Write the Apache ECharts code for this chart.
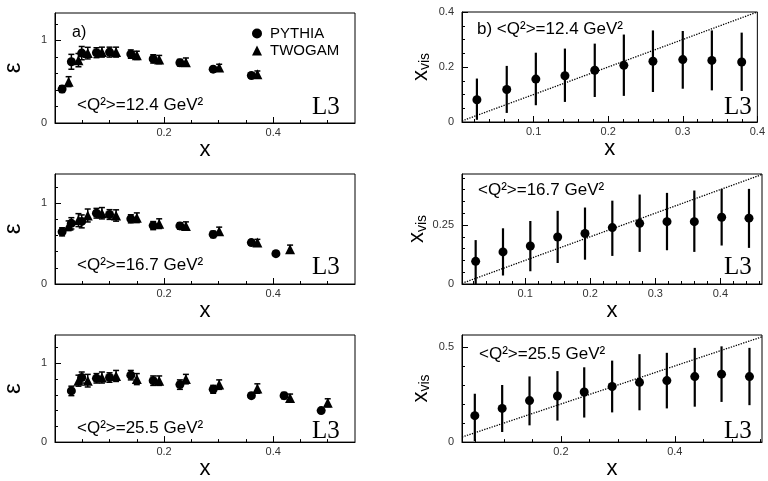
<!DOCTYPE html>
<html><head><meta charset="utf-8">
<script src="https://cdn.jsdelivr.net/npm/echarts@6/dist/echarts.min.js"></script>
<style>html,body{margin:0;padding:0;background:#fff}#c{width:768px;height:481px}</style>
</head><body><div id="c"></div><script>
// ---------- DATA ----------
const a_pyX   = [0.013,0.030,0.049,0.076,0.100,0.139,0.180,0.229,0.290,0.360];
const a_pyY   = [0.41,0.74,0.845,0.85,0.857,0.833,0.775,0.729,0.651,0.574];
const a_pyErr = [0.04,0.09,0.08,0.06,0.06,0.05,0.05,0.04,0.03,0.03];
const a_twX   = [0.025,0.043,0.060,0.086,0.112,0.150,0.191,0.240,0.301,0.371];
const a_twY   = [0.50,0.76,0.845,0.857,0.857,0.818,0.767,0.736,0.67,0.589];
const a_twErr = [0.06,0.08,0.07,0.06,0.06,0.05,0.05,0.05,0.04,0.04];

const c_pyX   = [0.013,0.030,0.049,0.076,0.100,0.139,0.180,0.229,0.290,0.360,0.405];
const c_pyY   = [0.645,0.75,0.774,0.875,0.859,0.806,0.722,0.718,0.613,0.512,0.375];
const c_pyErr = [0.05,0.07,0.08,0.06,0.06,0.05,0.05,0.04,0.04,0.03,0.03];
const c_twX   = [0.025,0.043,0.060,0.086,0.112,0.150,0.191,0.240,0.301,0.371,0.431];
const c_twY   = [0.72,0.79,0.847,0.875,0.847,0.819,0.746,0.718,0.653,0.512,0.431];
const c_twErr = [0.06,0.08,0.08,0.07,0.07,0.06,0.06,0.05,0.05,0.04,0.05];

const e_pyX   = [0.030,0.049,0.076,0.100,0.139,0.180,0.229,0.290,0.360,0.420,0.488];
const e_pyY   = [0.65,0.82,0.81,0.82,0.85,0.78,0.73,0.67,0.59,0.59,0.40];
const e_pyErr = [0.06,0.07,0.06,0.06,0.06,0.06,0.06,0.05,0.03,0.04,0.02];
const e_twX   = [0.043,0.060,0.086,0.112,0.150,0.191,0.240,0.301,0.371,0.431,0.500];
const e_twY   = [0.78,0.78,0.82,0.84,0.80,0.78,0.80,0.73,0.68,0.56,0.50];
const e_twErr = [0.07,0.08,0.07,0.07,0.07,0.06,0.06,0.06,0.06,0.05,0.05];

const b_x  = [0.024,0.064,0.103,0.142,0.182,0.221,0.260,0.300,0.339,0.379];
const b_y  = [0.081,0.118,0.156,0.168,0.188,0.206,0.221,0.227,0.224,0.218];
const b_hi = [0.158,0.204,0.252,0.267,0.285,0.318,0.333,0.331,0.333,0.325];
const b_lo = [0.008,0.033,0.061,0.073,0.091,0.095,0.109,0.121,0.115,0.113];

const d_x  = [0.024,0.066,0.108,0.150,0.192,0.234,0.276,0.318,0.360,0.402,0.444];
const d_y  = [0.096,0.136,0.161,0.199,0.214,0.239,0.257,0.264,0.264,0.283,0.279];
const d_hi = [0.186,0.236,0.267,0.310,0.324,0.353,0.379,0.386,0.396,0.403,0.403];
const d_lo = [0.000,0.036,0.054,0.089,0.103,0.119,0.136,0.143,0.136,0.163,0.153];

const f_x  = [0.049,0.097,0.145,0.194,0.241,0.290,0.338,0.386,0.435,0.482,0.531];
const f_y  = [0.139,0.177,0.218,0.242,0.263,0.292,0.314,0.323,0.344,0.357,0.344];
const f_hi = [0.254,0.300,0.345,0.373,0.393,0.428,0.462,0.469,0.495,0.503,0.495];
const f_lo = [0.005,0.053,0.088,0.113,0.129,0.156,0.167,0.177,0.186,0.211,0.194];

const leftXRange  = [0, 0.55];
const leftXMajor  = [0.2, 0.4];
const leftXMinor  = [0.05,0.1,0.15,0.25,0.3,0.35,0.45,0.5];
const leftYMajor  = [0, 1];
const leftYMinor  = [0.2,0.4,0.6,0.8,1.2];
const aYRange = [0, 1.33], cYRange = [0, 1.36], eYRange = [0, 1.36];

const bXRange = [0.004, 0.4], bYRange = [0, 0.4];
const bXMajor = [0.1,0.2,0.3,0.4];
const bXMinor = [0.02,0.04,0.06,0.08,0.12,0.14,0.16,0.18,0.22,0.24,0.26,0.28,0.32,0.34,0.36,0.38];
const bYMajor = [0,0.2,0.4];
const bYMinor = [0.05,0.1,0.15,0.25,0.3,0.35];

const dXRange = [0.003, 0.464], dYRange = [0, 0.466];
const dXMajor = [0.1,0.2,0.3,0.4];
const dXMinor = [0.02,0.04,0.06,0.08,0.12,0.14,0.16,0.18,0.22,0.24,0.26,0.28,0.32,0.34,0.36,0.38,0.42,0.44,0.46];
const dYMajor = [0,0.25];
const dYMinor = [0.05,0.1,0.15,0.2,0.3,0.35,0.4,0.45];

const fXRange = [0.0265, 0.553], fYRange = [0, 0.5626];
const fXMajor = [0.2,0.4];
const fXMinor = [0.05,0.1,0.15,0.25,0.3,0.35,0.45,0.5,0.55];
const fYMajor = [0,0.5];
const fYMinor = [0.1,0.2,0.3,0.4];

const qLabels = ['<Q²>=12.4 GeV²','<Q²>=16.7 GeV²','<Q²>=25.5 GeV²'];

// ---------- BUILD ----------
const SANS = 'Liberation Sans, Arial, sans-serif';
const SERIF = 'Liberation Serif, Times New Roman, serif';
const grids=[], xAxes=[], yAxes=[], series=[];
function fmt(v){ return String(+v.toFixed(2)); }

function mainAxis(dim, gi, range, major, name, nameGap, extra){
  const ax = {
    gridIndex: gi, type:'value', min: range[0], max: range[1],
    position: dim==='x' ? 'bottom' : 'left',
    axisLine:{show:true, onZero:false, lineStyle:{color:'#000', width:1}},
    axisTick:{show:true, inside:true, length:6, customValues: major, lineStyle:{color:'#000', width:1}},
    axisLabel:{show:true, customValues: major, formatter: fmt, fontSize:11, color:'#333', fontFamily:SANS,
      margin: dim==='x' ? 4 : 8, hideOverlap:false},
    splitLine:{show:false},
    name: name, nameLocation:'middle', nameGap: nameGap,
    nameTextStyle: Object.assign({fontSize:22, color:'#000', fontFamily:SANS}, extra||{})
  };
  if (dim==='y') ax.nameRotate = 90;
  return ax;
}
function minorAxis(dim, gi, range, minor){
  return {
    gridIndex: gi, type:'value', min: range[0], max: range[1],
    position: dim==='x' ? 'bottom' : 'left',
    axisLine:{show:false, onZero:false},
    axisTick:{show:true, inside:true, length:3, customValues: minor, lineStyle:{color:'#000', width:1}},
    axisLabel:{show:false}, splitLine:{show:false}
  };
}

function addPanel(p){
  const gi = grids.length;
  grids.push({left:p.box[0], top:p.box[1], width:p.box[2], height:p.box[3], show:true,
    borderColor:'#000', borderWidth:1, backgroundColor:'rgba(0,0,0,0)'});
  const xi = xAxes.length, yi = yAxes.length;
  xAxes.push(mainAxis('x', gi, p.xr, p.xMajor, 'x', p.xGap));
  xAxes.push(minorAxis('x', gi, p.xr, p.xMinor));
  yAxes.push(mainAxis('y', gi, p.yr, p.yMajor, p.yName, p.yGap, p.yNameStyle));
  yAxes.push(minorAxis('y', gi, p.yr, p.yMinor));
  p.sets.forEach(s=>{
    series.push({
      type:'custom', xAxisIndex:xi, yAxisIndex:yi, silent:true, z:2, clip:false,
      data: s.x.map((v,i)=>[v, s.lo[i], s.hi[i]]),
      encode:{x:0, y:[1,2]},
      renderItem:(params, api)=>{
        const a = api.coord([api.value(0), api.value(1)]);
        const b = api.coord([api.value(0), api.value(2)]);
        const ch = [{type:'line', shape:{x1:a[0],y1:a[1],x2:b[0],y2:b[1]}, style:{stroke:'#000', lineWidth:s.lw}}];
        if (s.cap){
          ch.push({type:'line', shape:{x1:b[0]-3,y1:b[1],x2:b[0]+3,y2:b[1]}, style:{stroke:'#000', lineWidth:1.5}});
          ch.push({type:'line', shape:{x1:a[0]-3,y1:a[1],x2:a[0]+3,y2:a[1]}, style:{stroke:'#000', lineWidth:1.5}});
        }
        return {type:'group', children: ch};
      }
    });
    series.push({
      type:'scatter', name:s.name, xAxisIndex:xi, yAxisIndex:yi, z:3,
      symbol:s.symbol, symbolSize:s.size, itemStyle:{color:'#000', opacity:1},
      data: s.x.map((v,i)=>[v, s.y[i]])
    });
  });
  if (p.diag){
    const lo = Math.max(p.xr[0], p.yr[0]), hi = Math.min(p.xr[1], p.yr[1]);
    series.push({type:'line', xAxisIndex:xi, yAxisIndex:yi, silent:true, z:1, showSymbol:false,
      data:[[lo,lo],[hi,hi]], lineStyle:{type:'dotted', width:1.3, color:'#000'}});
  }
}

function leftSets(pyX,pyY,pyErr,twX,twY,twErr){
  return [
    {name:'PYTHIA', symbol:'circle', size:9, cap:true, lw:1.5, x:pyX, y:pyY,
      lo:pyY.map((v,i)=>v-pyErr[i]), hi:pyY.map((v,i)=>v+pyErr[i])},
    {name:'TWOGAM', symbol:'triangle', size:10, cap:true, lw:1.5, x:twX, y:twY,
      lo:twY.map((v,i)=>v-twErr[i]), hi:twY.map((v,i)=>v+twErr[i])}
  ];
}
const visStyle = {rich:{
  x:{fontSize:22, fontFamily:SANS, color:'#000'},
  s:{fontSize:14, fontFamily:SANS, color:'#000', padding:[9,0,0,0]}
}};
const epsStyle = {fontSize:24};

const L = [55, 300], R = [462, 300];
addPanel({box:[L[0],13,L[1],110], xr:leftXRange, yr:aYRange, xMajor:leftXMajor, xMinor:leftXMinor,
  yMajor:leftYMajor, yMinor:leftYMinor, yName:'ε', yNameStyle:epsStyle, xGap:14, yGap:30,
  sets:leftSets(a_pyX,a_pyY,a_pyErr,a_twX,a_twY,a_twErr)});
addPanel({box:[L[0],174,L[1],110], xr:leftXRange, yr:cYRange, xMajor:leftXMajor, xMinor:leftXMinor,
  yMajor:leftYMajor, yMinor:leftYMinor, yName:'ε', yNameStyle:epsStyle, xGap:14, yGap:30,
  sets:leftSets(c_pyX,c_pyY,c_pyErr,c_twX,c_twY,c_twErr)});
addPanel({box:[L[0],335,L[1],110], xr:leftXRange, yr:eYRange, xMajor:leftXMajor, xMinor:leftXMinor,
  yMajor:leftYMajor, yMinor:leftYMinor, yName:'ε', yNameStyle:epsStyle, xGap:14, yGap:30,
  sets:leftSets(e_pyX,e_pyY,e_pyErr,e_twX,e_twY,e_twErr)});

function rightSet(x,y,lo,hi){ return [{name:'data', symbol:'circle', size:9, cap:false, lw:2.2, x:x, y:y, lo:lo, hi:hi}]; }
addPanel({box:[R[0],12,R[1],110], xr:bXRange, yr:bYRange, xMajor:bXMajor, xMinor:bXMinor,
  yMajor:bYMajor, yMinor:bYMinor, yName:'{x|x}{s|vis}', yNameStyle:visStyle, xGap:14, yGap:30, diag:true,
  sets:rightSet(b_x,b_y,b_lo,b_hi)});
addPanel({box:[R[0],174,R[1],110], xr:dXRange, yr:dYRange, xMajor:dXMajor, xMinor:dXMinor,
  yMajor:dYMajor, yMinor:dYMinor, yName:'{x|x}{s|vis}', yNameStyle:visStyle, xGap:14, yGap:30, diag:true,
  sets:rightSet(d_x,d_y,d_lo,d_hi)});
addPanel({box:[R[0],335,R[1],110], xr:fXRange, yr:fYRange, xMajor:fXMajor, xMinor:fXMinor,
  yMajor:fYMajor, yMinor:fYMinor, yName:'{x|x}{s|vis}', yNameStyle:visStyle, xGap:14, yGap:30, diag:true,
  sets:rightSet(f_x,f_y,f_lo,f_hi)});

function txt(x,y,text,size,font){
  return {type:'text', x:x, y:y, silent:true, z:10,
    style:{text:text, fill:'#000', font: size+'px '+font, align:'left', verticalAlign:'middle'}};
}
const graphics = [
  txt(72,33,'a)',16,SANS),
  txt(77,105,qLabels[0],17,SANS),
  txt(77,265,qLabels[1],17,SANS),
  txt(77,428,qLabels[2],17,SANS),
  txt(477,29,'b) '+qLabels[0],17,SANS),
  txt(478,190,qLabels[1],17,SANS),
  txt(479,354,qLabels[2],17,SANS),
  txt(312,107,'L3',25,SERIF), txt(312,267,'L3',25,SERIF), txt(312,431,'L3',25,SERIF),
  txt(724,107,'L3',25,SERIF), txt(724,267,'L3',25,SERIF), txt(724,431,'L3',25,SERIF)
];

const chart = echarts.init(document.getElementById('c'), null, {renderer:'canvas'});
chart.setOption({
  animation:false,
  backgroundColor:'#fff',
  grid:grids, xAxis:xAxes, yAxis:yAxes, series:series,
  legend:{show:true, orient:'vertical', left:247, top:21, itemWidth:10, itemHeight:10, itemGap:2,
    selectedMode:false,
    data:[{name:'PYTHIA', icon:'circle'},{name:'TWOGAM', icon:'triangle'}],
    textStyle:{fontSize:15, color:'#000', fontFamily:SANS, padding:[0,0,0,3]}},
  graphic:graphics
});
</script></body></html>
